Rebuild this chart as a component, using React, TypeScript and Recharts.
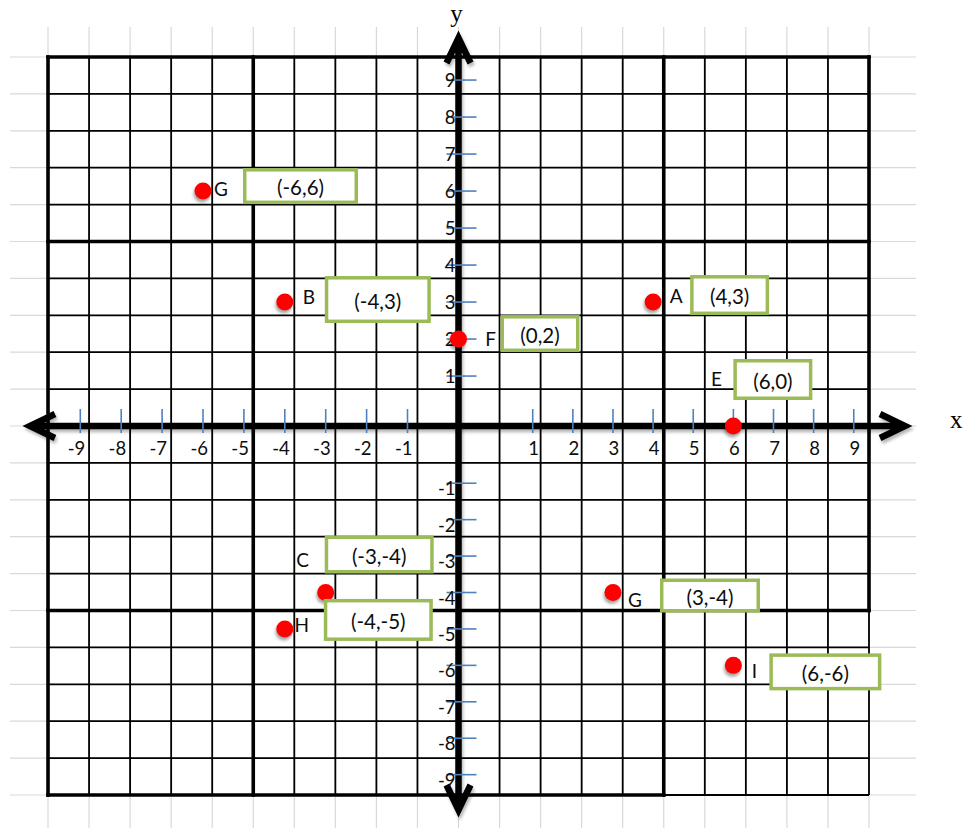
import React from 'react';
import { ScatterChart, Scatter, XAxis, YAxis, CartesianGrid, ReferenceLine } from 'recharts';

// ---------------- data ----------------
const cellLines = [-10, -9, -8, -7, -6, -5, -4, -3, -2, -1, 0, 1, 2, 3, 4, 5, 6, 7, 8, 9, 10];
const xTickNeg = [-9, -8, -7, -6, -5, -4, -3, -2, -1];
const xTickPos = [1, 2, 3, 4, 5, 6, 7, 8, 9];
const yTickPos = [9, 8, 7, 6, 5, 4, 3, 2, 1];
const yTickNeg = [-1, -2, -3, -4, -5, -6, -7, -8, -9];
const pointNames = ['G', 'B', 'F', 'A', 'E', 'C', 'H', 'G', 'I'];
const pointX = [-6, -4, 0, 4, 6, -3, -4, 3, 6];
const pointY = [6, 3, 2, 3, 0, -4, -5, -4, -6];
const axisNameX = 'x';
const axisNameY = 'y';

// ---------------- layout / style ----------------
const WIDTH = 963;
const HEIGHT = 828;
const MARGIN = { top: 27, right: 47, bottom: 0, left: 10 };
const DOM = {
  mainX: [-10.926, 11.145],
  mainY: [-10.894, 10.813],
  xn: [-10.719, 11.433],
  xp: [-12.026, 10.551],
  yn: [-10.464, 11.523],
  yp: [-11.215, 10.434],
};
const GRID_MIN = -10;
const GRID_MAX = 10;
// thick block borders [x1, y1, x2, y2] in cell units
const THICK = [
  [-10, -10, -10, 10],
  [-5, -10, -5, 10],
  [5, -10, 5, 10],
  [10, -5, 10, 10],
  [-10, 10, 10, 10],
  [-10, 5, 10, 5],
  [-10, -5, 10, -5],
  [-10, -10, 5, -10],
];
const X_AXIS_SPAN = [-10.44, 10.877];
const Y_AXIS_SPAN = [-10.407, 10.515];
// per point: letter offset and box [x0, x1, y0, y1] relative to the dot
const LABEL_LAYOUT = [
  { letter: [18, -3], box: [40, 155, -23, 13] },
  { letter: [24, -6], box: [40, 146, -26, 21] },
  { letter: [32, -1], box: [42, 121, -24, 13] },
  { letter: [23, -7], box: [37, 116, -27, 13] },
  { letter: [-17, -48], box: [0, 79, -67, -26] },
  { letter: [-23, -33], box: [-1, 108, -57, -19] },
  { letter: [17, -4], box: [39, 148, -30, 12] },
  { letter: [22, 7], box: [47, 147, -14, 20] },
  { letter: [21, 5], box: [36, 148, -12, 25] },
];
const C = {
  gray: '#d9d9d9',
  black: '#000000',
  tick: '#4F81BD',
  text: '#0d0d0d',
  dot: '#ff0000',
  box: '#9BBB59',
};
const SANS = 'Lato, "Open Sans", sans-serif';
const SERIF = '"Liberation Serif", "DejaVu Serif", serif';

const points = pointNames.map((name, i) => ({ idx: i, name, x: pointX[i], y: pointY[i] }));
const xAxisOf = (v: number) => (v < 0 ? 'xn' : v > 0 ? 'xp' : 'main');
const yAxisOf = (v: number) => (v < 0 ? 'yn' : v > 0 ? 'yp' : 'main');
const groupMap: Record<string, { xa: string; ya: string; data: any[] }> = {};
points.forEach((p) => {
  const xa = xAxisOf(p.x);
  const ya = yAxisOf(p.y);
  const k = xa + '|' + ya;
  if (!groupMap[k]) groupMap[k] = { xa, ya, data: [] };
  groupMap[k].data.push(p);
});
const groups = Object.keys(groupMap).map((k) => ({ key: k, ...groupMap[k] }));

const BlurDefs = () => (
  <defs>
    <filter id="softBlur" x="-50%" y="-50%" width="200%" height="200%">
      <feGaussianBlur stdDeviation="1.6" />
    </filter>
  </defs>
);

const makeAxisArrow = (label: string, ldx: number, ldy: number, anchor: string) => (p: any) => {
  const { x1, y1, x2, y2 } = p;
  const dx = x2 - x1;
  const dy = y2 - y1;
  const len = Math.hypot(dx, dy) || 1;
  const ux = dx / len;
  const uy = dy / len;
  const px = -uy;
  const py = ux;
  const L = 25;
  const Wd = 12;
  const head = (tx: number, ty: number, dx0: number, dy0: number) =>
    `M${tx - dx0 * L + px * Wd},${ty - dy0 * L + py * Wd} L${tx},${ty} L${tx - dx0 * L - px * Wd},${ty - dy0 * L - py * Wd}`;
  const d = `M${x1},${y1} L${x2},${y2} ${head(x2, y2, ux, uy)} ${head(x1, y1, -ux, -uy)}`;
  return (
    <g>
      <BlurDefs />
      <path d={d} transform="translate(1.5,3)" stroke="rgba(0,0,0,0.28)" strokeWidth={6.5} fill="none" filter="url(#softBlur)" />
      <path d={d} stroke={C.black} strokeWidth={6.5} fill="none" strokeLinejoin="miter" />
      <text x={x2 + ldx} y={y2 + ldy} textAnchor={anchor as any} fontFamily={SERIF} fontSize={25} fill="#000">
        {label}
      </text>
    </g>
  );
};

const XTick = (props: any) => {
  const { cx, cy, payload } = props;
  const v = payload.x;
  return (
    <g>
      <line x1={cx} y1={cy - 17} x2={cx} y2={cy + 7} stroke={C.tick} strokeWidth={1.6} />
      <text x={v < 0 ? cx + 5 : cx + 1} y={cy + 29} textAnchor={v < 0 ? 'end' : 'middle'} fontFamily={SANS} fontSize={18.5} fill={C.text}>
        {v}
      </text>
    </g>
  );
};

const YTick = (props: any) => {
  const { cx, cy, payload } = props;
  const v = payload.y;
  return (
    <g>
      <line x1={cx - 12} y1={cy} x2={cx + 18} y2={cy} stroke={C.tick} strokeWidth={1.6} />
      <text x={cx - 3} y={cy + (v < 0 ? 5 : 0)} textAnchor="end" dominantBaseline="central" fontFamily={SANS} fontSize={18.5} fill={C.text}>
        {v}
      </text>
    </g>
  );
};

const PointMark = (props: any) => {
  const { cx, cy, payload } = props;
  const lay = LABEL_LAYOUT[payload.idx];
  const [bx0, bx1, by0, by1] = lay.box;
  const sw = 3.5;
  return (
    <g>
      <BlurDefs />
      <circle cx={cx - 1} cy={cy + 3} r={8.5} fill="rgba(0,0,0,0.35)" filter="url(#softBlur)" />
      <circle cx={cx} cy={cy} r={8.5} fill={C.dot} />
      <text x={cx + lay.letter[0]} y={cy + lay.letter[1]} textAnchor="middle" dominantBaseline="central" fontFamily={SANS} fontSize={19} fill={C.text}>
        {payload.name}
      </text>
      <rect
        x={cx + bx0 + sw / 2}
        y={cy + by0 + sw / 2}
        width={bx1 - bx0 - sw}
        height={by1 - by0 - sw}
        fill="#ffffff"
        stroke={C.box}
        strokeWidth={sw}
      />
      <text
        x={cx + (bx0 + bx1) / 2}
        y={cy + (by0 + by1) / 2 + 1}
        textAnchor="middle"
        dominantBaseline="central"
        fontFamily={SANS}
        fontSize={20.5}
        fill={C.text}
      >
        {`(${payload.x},${payload.y})`}
      </text>
    </g>
  );
};

const xArrow = makeAxisArrow(axisNameX, 45, 2, 'start');
const yArrow = makeAxisArrow(axisNameY, -2, -16, 'middle');

export default function App() {
  return (
    <div style={{ position: 'absolute', left: 0, top: 0, width: WIDTH, height: HEIGHT, background: '#ffffff' }}>
      <ScatterChart width={WIDTH} height={HEIGHT} margin={MARGIN}>
        <XAxis xAxisId="main" type="number" dataKey="x" domain={DOM.mainX} ticks={cellLines} interval={0} allowDataOverflow hide />
        <XAxis xAxisId="xn" type="number" dataKey="x" domain={DOM.xn} allowDataOverflow hide />
        <XAxis xAxisId="xp" type="number" dataKey="x" domain={DOM.xp} allowDataOverflow hide />
        <YAxis yAxisId="main" type="number" dataKey="y" domain={DOM.mainY} ticks={cellLines} interval={0} allowDataOverflow hide />
        <YAxis yAxisId="yn" type="number" dataKey="y" domain={DOM.yn} allowDataOverflow hide />
        <YAxis yAxisId="yp" type="number" dataKey="y" domain={DOM.yp} allowDataOverflow hide />

        <CartesianGrid xAxisId="main" yAxisId="main" stroke={C.gray} strokeWidth={1.2} syncWithTicks />

        {cellLines.map((k) => (
          <ReferenceLine
            key={'v' + k}
            xAxisId="main"
            yAxisId="main"
            segment={[{ x: k, y: GRID_MIN }, { x: k, y: GRID_MAX }]}
            stroke={C.black}
            strokeWidth={1.8}
          />
        ))}
        {cellLines.map((k) => (
          <ReferenceLine
            key={'h' + k}
            xAxisId="main"
            yAxisId="main"
            segment={[{ x: GRID_MIN, y: k }, { x: GRID_MAX, y: k }]}
            stroke={C.black}
            strokeWidth={1.8}
          />
        ))}
        {THICK.map((s, i) => (
          <ReferenceLine
            key={'t' + i}
            xAxisId="main"
            yAxisId="main"
            segment={[{ x: s[0], y: s[1] }, { x: s[2], y: s[3] }]}
            stroke={C.black}
            strokeWidth={3.6}
            strokeLinecap="square"
          />
        ))}

        <ReferenceLine
          xAxisId="main"
          yAxisId="main"
          segment={[{ x: X_AXIS_SPAN[0], y: 0 }, { x: X_AXIS_SPAN[1], y: 0 }]}
          shape={xArrow}
        />
        <ReferenceLine
          xAxisId="main"
          yAxisId="main"
          segment={[{ x: 0, y: Y_AXIS_SPAN[0] }, { x: 0, y: Y_AXIS_SPAN[1] }]}
          shape={yArrow}
        />

        <Scatter data={xTickNeg.map((v) => ({ x: v, y: 0 }))} xAxisId="xn" yAxisId="main" shape={XTick} isAnimationActive={false} />
        <Scatter data={xTickPos.map((v) => ({ x: v, y: 0 }))} xAxisId="xp" yAxisId="main" shape={XTick} isAnimationActive={false} />
        <Scatter data={yTickPos.map((v) => ({ x: 0, y: v }))} xAxisId="main" yAxisId="yp" shape={YTick} isAnimationActive={false} />
        <Scatter data={yTickNeg.map((v) => ({ x: 0, y: v }))} xAxisId="main" yAxisId="yn" shape={YTick} isAnimationActive={false} />

        {groups.map((g) => (
          <Scatter key={g.key} data={g.data} xAxisId={g.xa} yAxisId={g.ya} shape={PointMark} isAnimationActive={false} />
        ))}
      </ScatterChart>
    </div>
  );
}
